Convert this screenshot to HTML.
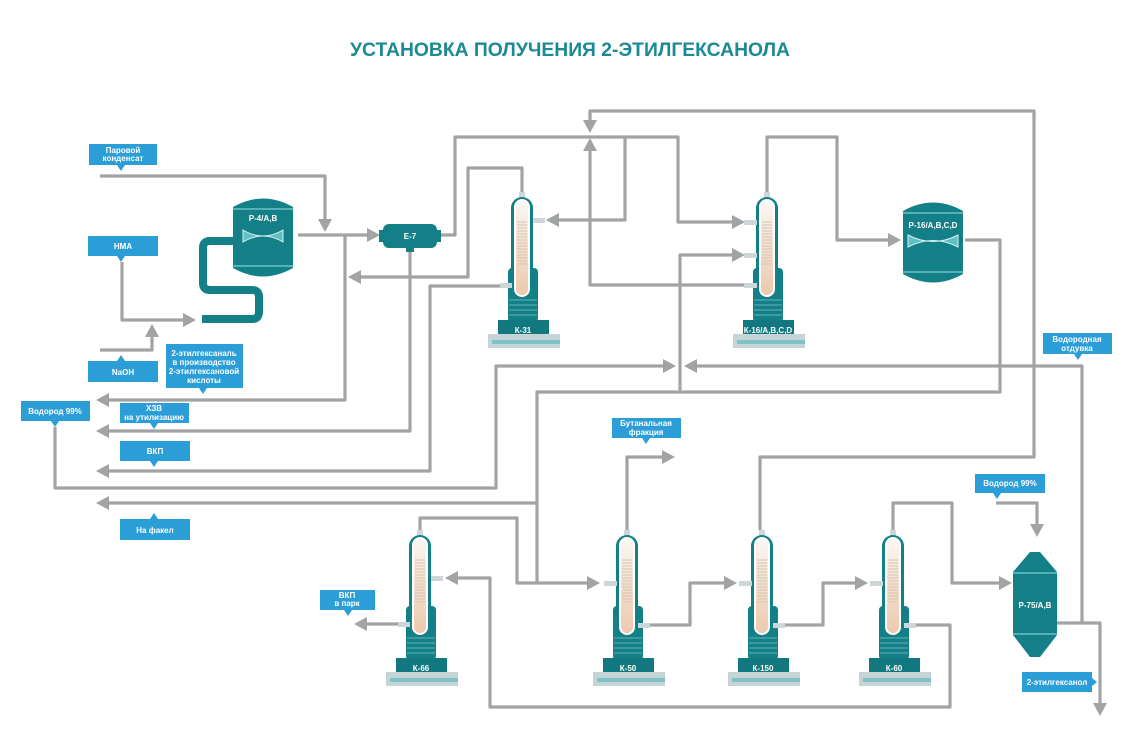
<!DOCTYPE html>
<html><head><meta charset="utf-8"><style>
html,body{margin:0;padding:0;background:#fff;}
svg{display:block;}
.t{font-family:"Liberation Sans",sans-serif;font-weight:bold;fill:#fff;font-size:8px;text-anchor:middle;}
</style></head><body>
<svg width="1140" height="753" viewBox="0 0 1140 753" xmlns="http://www.w3.org/2000/svg">
<defs>
<linearGradient id="bg" x1="0" y1="0" x2="0" y2="1"><stop offset="0" stop-color="#fbf7f3"/><stop offset="0.45" stop-color="#f3e2d4"/><stop offset="1" stop-color="#ecc9ad"/></linearGradient>
<g id="col">
<rect x="-3" y="0" width="6" height="9" fill="#cdd7d9"/>
<path d="M-11,112 V16 A11,11 0 0 1 11,16 V112 Z" fill="#137f86"/>
<rect x="-14" y="76" width="30" height="54" rx="4" fill="#137f86"/>
<rect x="-8" y="7" width="16" height="98" rx="8" fill="#fff"/>
<rect x="-6" y="9" width="12" height="94" rx="6" fill="url(#bg)"/>
<g stroke="#d9c2ae" stroke-width="1">
<line x1="-5" x2="5" y1="30" y2="30"/><line x1="-5" x2="5" y1="33" y2="33"/><line x1="-5" x2="5" y1="36" y2="36"/><line x1="-5" x2="5" y1="39" y2="39"/><line x1="-5" x2="5" y1="42" y2="42"/><line x1="-5" x2="5" y1="45" y2="45"/><line x1="-5" x2="5" y1="48" y2="48"/><line x1="-5" x2="5" y1="51" y2="51"/><line x1="-5" x2="5" y1="54" y2="54"/><line x1="-5" x2="5" y1="57" y2="57"/><line x1="-5" x2="5" y1="60" y2="60"/><line x1="-5" x2="5" y1="63" y2="63"/><line x1="-5" x2="5" y1="66" y2="66"/><line x1="-5" x2="5" y1="69" y2="69"/><line x1="-5" x2="5" y1="72" y2="72"/></g>
<g stroke="#56a9ae" stroke-width="1.2"><line x1="-13" x2="15" y1="108" y2="108"/><line x1="-13" x2="15" y1="113" y2="113"/><line x1="-13" x2="15" y1="118" y2="118"/><line x1="-13" x2="15" y1="123" y2="123"/></g>
<rect x="-24" y="128" width="51" height="14" fill="#117880"/>
<rect x="-34" y="142" width="72" height="14" fill="#c6d4d7"/>
<rect x="-30" y="148" width="68" height="4" fill="#7fc3c9"/>
</g>
</defs>
<text x="570" y="56" font-family="Liberation Sans, sans-serif" font-weight="bold" font-size="19" fill="#1b8a92" text-anchor="middle" textLength="440" lengthAdjust="spacingAndGlyphs">УСТАНОВКА ПОЛУЧЕНИЯ 2-ЭТИЛГЕКСАНОЛА</text>
<g fill="none" stroke="#a2a3a5" stroke-width="3.2" stroke-linejoin="round">
<polyline points="100,176 325,176 325,219"/>
<polyline points="298,235 367,235"/>
<polyline points="345,235 345,400 109,400"/>
<polyline points="410,252 410,431 109,431"/>
<polyline points="500,286 430,286 430,471 109,471"/>
<polyline points="55,427 55,488 496,488 496,366 663,366"/>
<polyline points="1082,623 1082,366 697,366"/>
<polyline points="965,240 1000,240 1000,392 537,392 537,583 587,583"/>
<polyline points="680,392 680,255 732,255"/>
<polyline points="537,503 109,503"/>
<polyline points="438,235 455,235 455,137 678,137 678,222 732,222"/>
<polyline points="625,137 625,220 559,220"/>
<polyline points="744,285 590,285 590,151"/>
<polyline points="760,530 760,457 1034,457 1034,111 590,111 590,120"/>
<polyline points="522,192 522,168 468,168 468,277 361,277"/>
<polyline points="767,192 767,137 837,137 837,240 888,240"/>
<polyline points="122,262 122,320 183,320"/>
<polyline points="100,350 152,350 152,337"/>
<polyline points="420,530 420,518 517,518 517,583 537,583"/>
<polyline points="627,530 627,457 662,457"/>
<polyline points="650,625 690,625 690,583 724,583"/>
<polyline points="785,625 823,625 823,583 855,583"/>
<polyline points="916,625 950,625 950,707 490,707 490,578 458,578"/>
<polyline points="893,530 893,503 952,503 952,583 999,583"/>
<polyline points="996,503 1037,503 1037,524"/>
<polyline points="1057,623 1100,623 1100,703"/>
<polyline points="398,624 367,624"/>
</g>
<g fill="#a2a3a5">
<path d="M325,232 L318,219 L332,219Z"/>
<path d="M380,235 L367,228 L367,242Z"/>
<path d="M96,400 L109,393 L109,407Z"/>
<path d="M96,431 L109,424 L109,438Z"/>
<path d="M96,471 L109,464 L109,478Z"/>
<path d="M676,366 L663,359 L663,373Z"/>
<path d="M684,366 L697,359 L697,373Z"/>
<path d="M600,583 L587,576 L587,590Z"/>
<path d="M745,255 L732,248 L732,262Z"/>
<path d="M96,503 L109,496 L109,510Z"/>
<path d="M745,222 L732,215 L732,229Z"/>
<path d="M546,220 L559,213 L559,227Z"/>
<path d="M590,138 L583,151 L597,151Z"/>
<path d="M590,133 L583,120 L597,120Z"/>
<path d="M348,277 L361,270 L361,284Z"/>
<path d="M901,240 L888,233 L888,247Z"/>
<path d="M196,320 L183,313 L183,327Z"/>
<path d="M152,324 L145,337 L159,337Z"/>
<path d="M675,457 L662,450 L662,464Z"/>
<path d="M737,583 L724,576 L724,590Z"/>
<path d="M868,583 L855,576 L855,590Z"/>
<path d="M445,578 L458,571 L458,585Z"/>
<path d="M1012,583 L999,576 L999,590Z"/>
<path d="M1037,537 L1030,524 L1044,524Z"/>
<path d="M1100,716 L1093,703 L1107,703Z"/>
<path d="M354,624 L367,617 L367,631Z"/>
</g>
<path d="M236,241 H210 Q203,241 203,248 V283 Q203,290 210,290 H252 Q259,290 259,297 V312 Q259,319 252,319 H202" fill="none" stroke="#137f86" stroke-width="8"/>
<path d="M233,207 Q263,190 293,207 V268 Q263,285 233,268 Z" fill="#137f86"/>
<line x1="233" y1="209" x2="293" y2="209" stroke="#7fcfd2" stroke-width="1.2"/>
<line x1="233" y1="266" x2="293" y2="266" stroke="#7fcfd2" stroke-width="1.2"/>
<path d="M243,230 Q263,242 283,230 V242 Q263,230 243,242 Z" fill="#5fc0c3" stroke="#d7f0f1" stroke-width="1"/>
<text class="t" x="263" y="221" font-size="7">Р-4/А,В</text>
<rect x="383" y="224" width="54" height="24" rx="6" fill="#137f86"/>
<rect x="379" y="230" width="5" height="12" fill="#137f86"/><rect x="436" y="230" width="5" height="12" fill="#137f86"/>
<rect x="406" y="247" width="8" height="5" fill="#137f86"/>
<text class="t" x="410" y="239" font-size="7">Е-7</text>
<path d="M903,211 Q933,194 963,211 V274 Q933,291 903,274 Z" fill="#137f86"/>
<line x1="903" y1="213" x2="963" y2="213" stroke="#7fcfd2" stroke-width="1.2"/>
<line x1="903" y1="272" x2="963" y2="272" stroke="#7fcfd2" stroke-width="1.2"/>
<path d="M908,235 Q933,248 958,235 V247 Q933,234 908,247 Z" fill="#5fc0c3" stroke="#d7f0f1" stroke-width="1"/>
<text class="t" x="933" y="228" font-size="6.5">Р-16/А,В,С,D</text>
<path d="M1030,552 H1040 L1057,572 V635 L1040,657 H1030 L1013,635 V572 Z" fill="#137f86"/>
<line x1="1013" y1="573" x2="1057" y2="573" stroke="#7fcfd2" stroke-width="1.2"/>
<line x1="1013" y1="634" x2="1057" y2="634" stroke="#7fcfd2" stroke-width="1.2"/>
<text class="t" x="1035" y="608" font-size="6.5">Р-75/А,В</text>
<use href="#col" x="522" y="192"/>
<use href="#col" x="767" y="192"/>
<use href="#col" x="420" y="530"/>
<use href="#col" x="627" y="530"/>
<use href="#col" x="762" y="530"/>
<use href="#col" x="893" y="530"/>
<g fill="#cdd7d9">
<rect x="533" y="218" width="12" height="5"/><rect x="500" y="283" width="12" height="5"/>
<rect x="744" y="220" width="13" height="5"/><rect x="744" y="253" width="13" height="5"/><rect x="744" y="283" width="13" height="5"/>
<rect x="431" y="576" width="12" height="5"/><rect x="398" y="622" width="12" height="5"/>
<rect x="604" y="581" width="13" height="5"/><rect x="638" y="623" width="12" height="5"/>
<rect x="739" y="581" width="13" height="5"/><rect x="773" y="623" width="12" height="5"/>
<rect x="870" y="581" width="13" height="5"/><rect x="904" y="623" width="12" height="5"/>
</g>
<text class="t" x="523" y="333" font-size="7">К-31</text>
<text class="t" x="768" y="333" font-size="6.5">К-16/А,В,С,D</text>
<text class="t" x="421" y="671" font-size="7">К-66</text>
<text class="t" x="628" y="671" font-size="7">К-50</text>
<text class="t" x="763" y="671" font-size="7">К-150</text>
<text class="t" x="894" y="671" font-size="7">К-60</text>
<g fill="#2b9ed8">
<rect x="89" y="144" width="68" height="21"/><path d="M117,165 h8 l-4,6z"/>
<rect x="88" y="236" width="70" height="20"/><path d="M117,256 h8 l-4,6z"/>
<rect x="88" y="361" width="70" height="21"/><path d="M117,361 h8 l-4,-6z"/>
<rect x="166" y="344" width="77" height="44"/><path d="M199,388 h8 l-4,6z"/>
<rect x="21" y="401" width="69" height="20"/><path d="M51,421 h8 l-4,6z"/>
<rect x="120" y="403" width="69" height="20"/><path d="M150,423 h8 l-4,6z"/>
<rect x="120" y="441" width="70" height="20"/><path d="M150,461 h8 l-4,6z"/>
<rect x="120" y="519" width="70" height="21"/><path d="M150,519 h8 l-4,-6z"/>
<rect x="320" y="590" width="55" height="20"/><path d="M344,610 h8 l-4,6z"/>
<rect x="612" y="418" width="69" height="20"/><path d="M642,438 h8 l-4,6z"/>
<rect x="1043" y="333" width="69" height="21"/><path d="M1074,354 h8 l-4,6z"/>
<rect x="975" y="474" width="70" height="19"/><path d="M993,493 h8 l-4,6z"/>
<rect x="1022" y="672" width="70" height="20"/><path d="M1092,678 v8 l5,-4z"/>
</g>
<text class="t" x="123" y="153">Паровой</text><text class="t" x="123" y="161">конденсат</text>
<text class="t" x="123" y="249">НМА</text>
<text class="t" x="123" y="375">NaOH</text>
<text class="t" x="204" y="356">2-этилгексаналь</text><text class="t" x="204" y="365">в производство</text><text class="t" x="204" y="374">2-этилгексановой</text><text class="t" x="204" y="383">кислоты</text>
<text class="t" x="55" y="414">Водород 99%</text>
<text class="t" x="154" y="411">ХЗВ</text><text class="t" x="154" y="420">на утилизацию</text>
<text class="t" x="155" y="454">ВКП</text>
<text class="t" x="155" y="533">На факел</text>
<text class="t" x="347" y="598">ВКП</text><text class="t" x="347" y="606">в парк</text>
<text class="t" x="646" y="426">Бутанальная</text><text class="t" x="646" y="435">фракция</text>
<text class="t" x="1077" y="342">Водородная</text><text class="t" x="1077" y="351">отдувка</text>
<text class="t" x="1010" y="486">Водород 99%</text>
<text class="t" x="1057" y="685">2-этилгексанол</text>
</svg>
</body></html>
